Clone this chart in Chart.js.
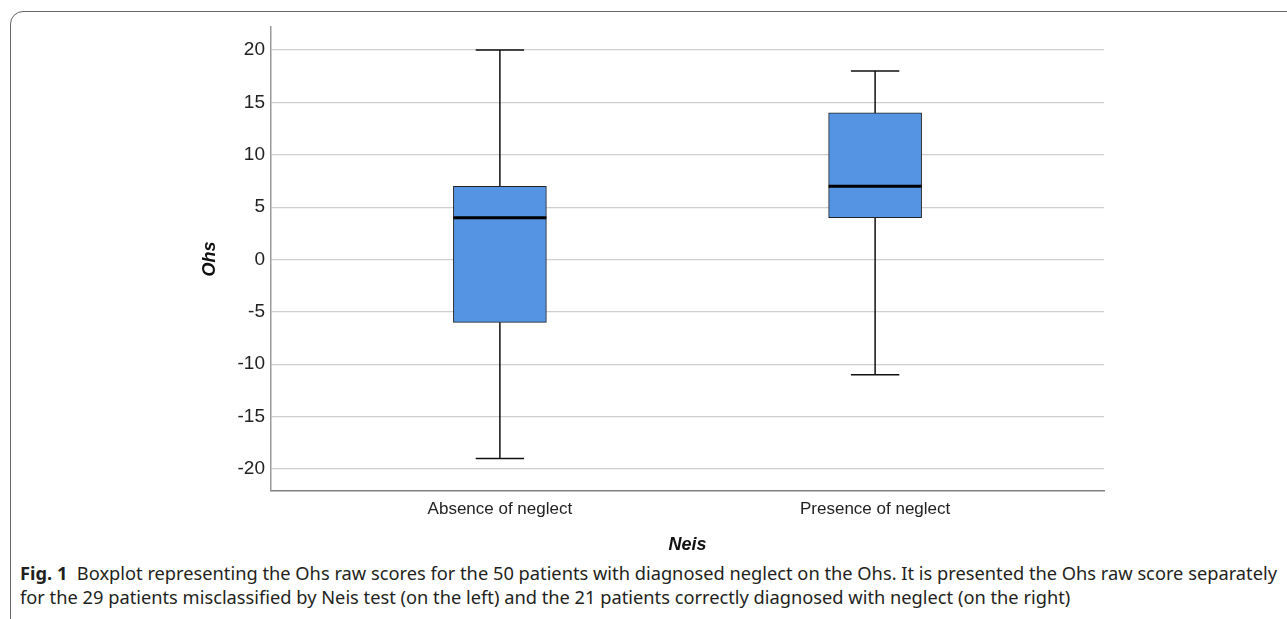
<!DOCTYPE html>
<html><head><meta charset="utf-8">
<script src="https://cdn.jsdelivr.net/npm/chart.js@4.4.1/dist/chart.umd.min.js"></script>
<style>
html,body{margin:0;padding:0;width:1287px;height:619px;overflow:hidden;background:#fff;}
#frame{position:absolute;left:10px;top:11px;width:1400px;height:800px;border:1.5px solid #666;border-top-left-radius:13px;box-sizing:border-box;}
#wrap{position:absolute;left:0;top:0;width:1287px;height:560px;}
.cap{position:absolute;left:20px;white-space:nowrap;font-family:"Noto Sans",sans-serif;font-size:18px;line-height:20px;color:#231f20;transform-origin:0 0;}
#cap1{top:563px;}
#cap2{top:587px;}
</style></head><body>
<div id="frame"></div>
<div id="wrap"><canvas id="c" width="1287" height="560"></canvas></div>
<div class="cap" id="cap1"><b>Fig. 1</b>&nbsp; Boxplot representing the Ohs raw scores for the 50 patients with diagnosed neglect on the Ohs. It is presented the Ohs raw score separately</div>
<div class="cap" id="cap2">for the 29 patients misclassified by Neis test (on the left) and the 21 patients correctly diagnosed with neglect (on the right)</div>
<script>
const categories = ['Absence of neglect', 'Presence of neglect'];
const positions = [1, 2];
const whiskerMin = [-19, -11];
const q1 = [-6, 4];
const median = [4, 7];
const q3 = [7, 14];
const whiskerMax = [20, 18];
const yTicks = [-20, -15, -10, -5, 0, 5, 10, 15, 20];

// fit caption line 1 to width
(function(){
  const c1 = document.getElementById('cap1');
  const w = c1.getBoundingClientRect().width;
  const s = 1257 / w;
  c1.style.transform = 'scaleX(' + s + ')';
  document.getElementById('cap2').style.transform = 'scaleX(' + s + ')';
})();

const boxPlugin = {
  id: 'boxplot',
  beforeDatasetsDraw(chart) {
    const ctx = chart.ctx, y = chart.scales.y, x = chart.scales.x;
    const meta = chart.getDatasetMeta(0);
    ctx.save();
    ctx.strokeStyle = '#111';
    ctx.lineWidth = 1.5;
    positions.forEach((p, i) => {
      const px = x.getPixelForValue(p);
      const w = meta.data[i].width;
      const cap = w * 0.26;
      ctx.beginPath();
      ctx.moveTo(px, y.getPixelForValue(whiskerMax[i]));
      ctx.lineTo(px, y.getPixelForValue(q3[i]));
      ctx.moveTo(px, y.getPixelForValue(q1[i]));
      ctx.lineTo(px, y.getPixelForValue(whiskerMin[i]));
      ctx.moveTo(px - cap, y.getPixelForValue(whiskerMax[i]));
      ctx.lineTo(px + cap, y.getPixelForValue(whiskerMax[i]));
      ctx.moveTo(px - cap, y.getPixelForValue(whiskerMin[i]));
      ctx.lineTo(px + cap, y.getPixelForValue(whiskerMin[i]));
      ctx.stroke();
    });
    ctx.restore();
  },
  afterDatasetsDraw(chart) {
    const ctx = chart.ctx, y = chart.scales.y, x = chart.scales.x;
    const meta = chart.getDatasetMeta(0);
    ctx.save();
    ctx.strokeStyle = '#000';
    ctx.lineWidth = 3;
    positions.forEach((p, i) => {
      const px = x.getPixelForValue(p);
      const w = meta.data[i].width;
      const py = y.getPixelForValue(median[i]);
      ctx.beginPath();
      ctx.moveTo(px - w / 2, py);
      ctx.lineTo(px + w / 2, py);
      ctx.stroke();
    });
    ctx.restore();
  }
};

new Chart(document.getElementById('c'), {
  type: 'bar',
  data: {
    datasets: [{
      data: positions.map((p, i) => ({x: p, y: [q1[i], q3[i]]})),
      backgroundColor: '#5594e3',
      borderColor: '#222',
      borderWidth: 1,
      borderSkipped: false,
      barThickness: 93
    }]
  },
  plugins: [boxPlugin],
  options: {
    responsive: false,
    animation: false,
    events: [],
    layout: {padding: {left: 180, right: 183, top: 27, bottom: 0}},
    plugins: {legend: {display: false}, tooltip: {enabled: false}},
    scales: {
      x: {
        type: 'linear',
        offset: false,
        min: 0.39, max: 2.61,
        afterBuildTicks(s) { s.ticks = positions.map(v => ({value: v})); },
        afterFit(s) { s.height = 69; },
        ticks: {
          callback: (v) => categories[positions.indexOf(v)],
          font: {family: 'Liberation Sans, Arial', size: 17},
          color: '#222', padding: 8, maxRotation: 0, autoSkip: false
        },
        grid: {display: false, drawTicks: false, offset: false},
        border: {display: true, color: '#808080', width: 1.5},
        title: {display: true, text: 'Neis', font: {family: 'Liberation Sans, Arial', size: 18, weight: 'bold', style: 'italic'}, color: '#111', padding: {top: 0, bottom: 4}}
      },
      y: {
        min: -22.1, max: 22.2,
        afterBuildTicks(s) { s.ticks = yTicks.map(v => ({value: v})); },
        afterFit(s) { s.width = 91; },
        ticks: {
          font: {family: 'Liberation Sans, Arial', size: 19},
          color: '#222', padding: 6
        },
        grid: {color: '#cfcfcf', lineWidth: 1.2, drawTicks: false},
        border: {display: true, color: '#999', width: 1.5},
        title: {display: true, text: 'Ohs', font: {family: 'Liberation Sans, Arial', size: 18, weight: 'bold', style: 'italic'}, color: '#111', padding: {top: 19, bottom: 0}}
      }
    }
  }
});
</script>
</body></html>
